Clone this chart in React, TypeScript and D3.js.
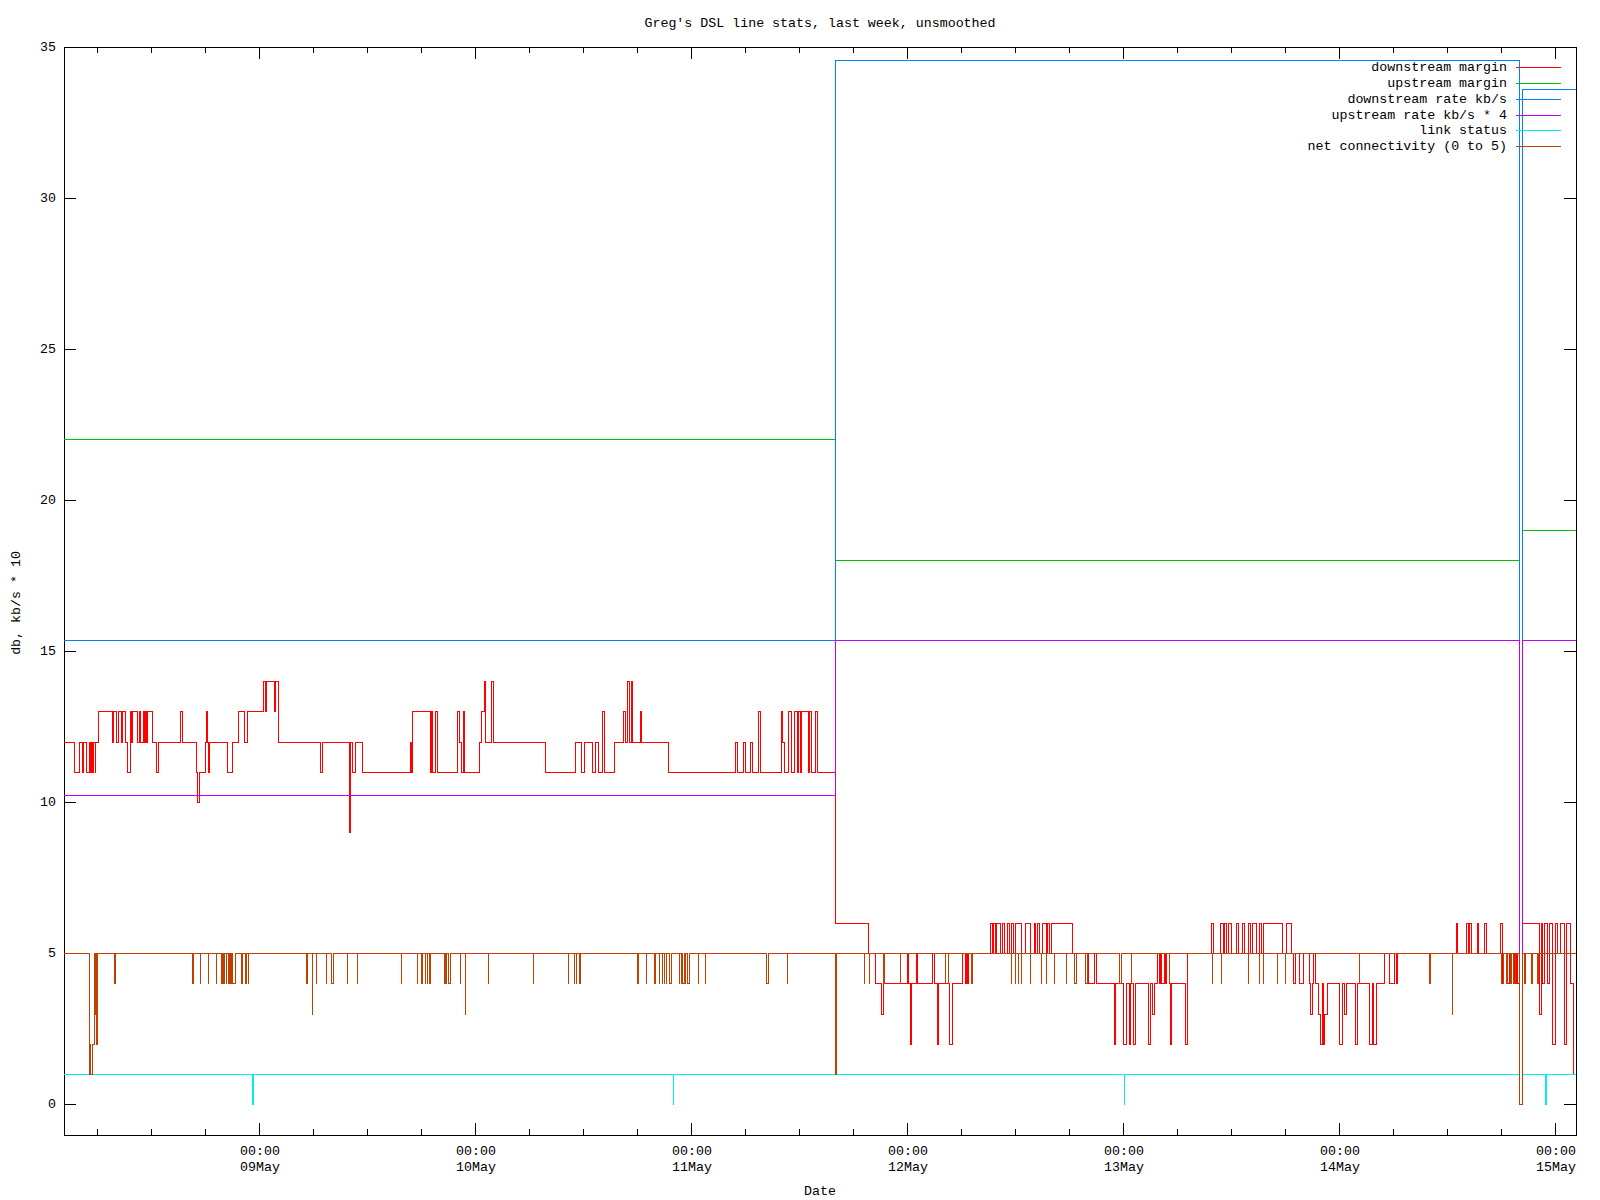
import * as d3 from "d3";

type Step = [number, number]; // [hours since 08 May 00:00, value]
type Dip = [number, number, number]; // [hours, value, number of 5-minute samples]

const TITLE = "Greg's DSL line stats, last week, unsmoothed";
const Y_LABEL = "db, kb/s * 10";
const X_LABEL = "Date";

const DAY0 = new Date(2008, 4, 8, 0, 0);
const HOURS_START = 2.23;
const HOURS_END = 170.23;
const SAMPLE_HOURS = 5 / 60;
const Y_TICKS = [0, 5, 10, 15, 20, 25, 30, 35];

// downstream margin, step changes
const downstreamMargin: Step[] = [
  [2.23, 12], [3.35, 11], [3.9, 12], [4.24, 11], [4.42, 12], [4.68, 11], [5.05, 12], [5.2, 11],
  [5.31, 12], [5.42, 11], [5.53, 12], [5.68, 11], [5.76, 12], [6.02, 13], [7.57, 12], [7.72, 13],
  [8.05, 12], [8.27, 13], [8.57, 12], [8.72, 13], [9.01, 12], [9.24, 11], [9.57, 13], [9.76, 12],
  [9.83, 13], [10.35, 12], [10.57, 13], [10.72, 12], [11.01, 13], [11.16, 12], [11.27, 13],
  [11.42, 12], [11.53, 13], [12.01, 12], [12.53, 11], [12.72, 12], [15.2, 13], [15.39, 12],
  [16.9, 11], [17.01, 10], [17.24, 11], [17.94, 12], [18.05, 13], [18.2, 12], [18.24, 11],
  [18.35, 12], [20.35, 11], [20.9, 12], [21.61, 13], [22.27, 12], [22.61, 13], [24.35, 14],
  [24.57, 13], [24.72, 14], [25.57, 13], [25.76, 14], [26.05, 12], [30.68, 11], [30.94, 12],
  [33.9, 9], [34.05, 12], [34.3, 11], [34.58, 12], [35.35, 11], [40.68, 12], [40.87, 11],
  [40.98, 13], [42.9, 11], [43.01, 13], [43.13, 11], [43.53, 13], [43.72, 11], [45.9, 13],
  [46.2, 12], [46.35, 11], [46.57, 13], [46.72, 11], [48.35, 12], [48.57, 13], [48.9, 14],
  [49.05, 12], [49.68, 14], [49.9, 12], [55.68, 11], [59.01, 12], [59.68, 11], [60.01, 12],
  [60.9, 11], [61.24, 12], [61.57, 11], [62.01, 13], [62.24, 11], [63.35, 12], [64.35, 13],
  [64.57, 12], [64.87, 14], [65.05, 12], [65.24, 14], [65.39, 12], [66.24, 13], [66.35, 12],
  [69.35, 11], [76.87, 12], [77.05, 11], [77.68, 12], [77.9, 11], [78.53, 12], [78.72, 11],
  [79.35, 13], [79.57, 11], [81.9, 13], [82.05, 12], [82.24, 11], [82.68, 13], [83.01, 11],
  [83.35, 13], [83.68, 11], [83.87, 13], [84.01, 11], [84.2, 13], [84.9, 11], [85.05, 13],
  [85.24, 11], [85.68, 13], [85.9, 11], [88.0, 6], [91.61, 5], [92.35, 4], [93.01, 3],
  [93.24, 4], [95.9, 5], [96.01, 4], [96.24, 2], [96.39, 4], [96.9, 5], [97.01, 4], [98.72, 5],
  [98.9, 4], [99.24, 2], [99.39, 4], [100.57, 2], [100.94, 4], [102.05, 5], [102.39, 4],
  [102.53, 5], [102.64, 4], [102.76, 5], [105.2, 6], [105.35, 5], [105.5, 6], [105.72, 5],
  [105.87, 6], [106.24, 5], [106.53, 6], [106.72, 5], [107.05, 6], [107.24, 5], [107.53, 6],
  [107.76, 5], [107.9, 6], [108.64, 5], [109.01, 6], [109.64, 5], [110.01, 6], [110.2, 5],
  [110.35, 6], [110.64, 5], [110.9, 6], [111.39, 5], [111.53, 6], [111.76, 5], [111.9, 6],
  [114.24, 5], [116.05, 4], [116.68, 5], [116.9, 4], [118.94, 2], [119.09, 4], [119.97, 2],
  [120.34, 4], [120.57, 2], [120.75, 4], [121.01, 2], [121.34, 4], [122.68, 2], [122.94, 4],
  [123.2, 3], [123.38, 4], [123.68, 5], [123.9, 4], [124.01, 5], [124.12, 4], [124.46, 5],
  [124.57, 4], [124.72, 5], [125.01, 4], [125.2, 2], [125.27, 4], [126.86, 2], [127.05, 5],
  [129.68, 6], [129.94, 5], [130.68, 6], [131.01, 5], [131.2, 6], [131.38, 5], [131.57, 6],
  [131.94, 5], [132.53, 6], [132.72, 5], [133.2, 6], [133.42, 5], [133.86, 6], [134.05, 5],
  [134.23, 6], [134.68, 5], [135.01, 6], [135.23, 5], [135.53, 6], [137.6, 5], [138.01, 6],
  [138.57, 5], [138.86, 4], [139.05, 5], [139.53, 4], [139.9, 5], [140.57, 4], [140.68, 3],
  [140.9, 4], [141.01, 5], [141.27, 4], [141.57, 3], [141.86, 2], [142.01, 4], [142.2, 2],
  [142.34, 3], [142.57, 4], [143.97, 2], [144.23, 4], [144.53, 3], [144.71, 4], [145.68, 2],
  [145.9, 4], [147.31, 2], [147.57, 4], [147.68, 2], [148.01, 4], [148.9, 5], [149.53, 4],
  [150.01, 5], [150.27, 4], [150.42, 5], [156.9, 6], [157.05, 5], [158.01, 6], [158.23, 5],
  [158.42, 6], [158.6, 5], [159.23, 6], [159.42, 5], [160.01, 6], [160.23, 5], [161.83, 6],
  [162.01, 4], [162.2, 5], [162.49, 4], [162.83, 5], [163.38, 4], [163.6, 5], [163.75, 4],
  [163.94, 0], [164.3, 6], [166.2, 3], [166.35, 6], [166.5, 4], [166.7, 6], [167.1, 4],
  [167.25, 6], [167.6, 2], [167.9, 6], [168.2, 5], [168.5, 6], [168.9, 2], [169.2, 6],
  [169.6, 4], [169.9, 1],
];

const upstreamMargin: Step[] = [[2.23, 22], [88.0, 18], [163.94, 0], [164.27, 19]];
const downstreamRate: Step[] = [[2.23, 15.36], [88.0, 34.56], [163.94, 0], [164.27, 33.6]];
const upstreamRate: Step[] = [[2.23, 10.24], [88.0, 15.36], [164.0, 0], [164.27, 15.36]];

const LINK_BASE = 1;
const linkDips: Dip[] = [[23.2, 0, 1], [69.92, 0, 1], [120.03, 0, 1], [163.94, 0, 4], [166.86, 0, 1]];

const NET_BASE = 5;
const netDips: Dip[] = [
  [5.02, 1, 1], [5.11, 2, 1], [5.2, 1, 3], [5.45, 2, 2], [5.65, 3, 1], [5.76, 3, 1], [5.88, 2, 1],
  [7.79, 4, 2], [16.46, 4, 2], [17.35, 4, 1], [18.24, 4, 1], [19.13, 4, 1], [19.68, 4, 2],
  [20.0, 4, 1], [20.24, 4, 1], [20.53, 4, 1], [20.76, 4, 1], [20.98, 4, 4], [22.0, 4, 1],
  [22.39, 4, 1], [22.68, 4, 1], [29.13, 4, 2], [29.79, 3, 1], [30.24, 4, 1], [31.35, 4, 1],
  [32.0, 4, 2], [33.68, 4, 1], [34.79, 4, 1], [39.68, 4, 1], [41.46, 4, 1], [41.9, 4, 2],
  [42.35, 4, 1], [42.57, 4, 1], [42.79, 4, 2], [44.46, 4, 2], [44.68, 4, 1], [44.9, 4, 3],
  [46.24, 4, 1], [46.79, 3, 1], [49.35, 4, 1], [54.35, 4, 1], [58.24, 4, 1], [58.9, 4, 1],
  [59.13, 4, 1], [59.46, 4, 2], [65.9, 4, 2], [66.9, 4, 1], [67.79, 4, 2], [68.35, 4, 1],
  [68.68, 4, 1], [68.9, 4, 1], [69.13, 4, 1], [69.46, 4, 3], [70.57, 4, 1], [70.79, 4, 1],
  [71.0, 4, 2], [71.24, 4, 1], [71.46, 4, 3], [72.68, 4, 1], [73.46, 4, 1], [80.31, 4, 2],
  [82.57, 4, 1], [88.0, 1, 1], [91.13, 4, 1], [91.68, 4, 1], [93.24, 4, 2], [95.13, 4, 1],
  [100.13, 4, 1], [100.46, 4, 1], [103.05, 4, 2], [107.46, 4, 1], [107.9, 4, 1], [108.24, 4, 1],
  [108.57, 4, 1], [109.57, 4, 1], [110.79, 4, 1], [111.35, 4, 1], [112.24, 4, 1], [113.57, 4, 1],
  [114.46, 4, 3], [115.72, 4, 3], [119.53, 4, 3], [120.79, 4, 1], [125.01, 4, 1], [129.79, 4, 1],
  [130.79, 4, 1], [133.79, 4, 1], [135.01, 4, 1], [135.46, 4, 1], [137.01, 4, 1], [137.9, 4, 1],
  [146.12, 4, 1], [153.98, 4, 1], [156.46, 3, 1], [162.0, 4, 2], [162.5, 4, 1], [162.95, 4, 1],
  [163.3, 4, 2], [163.94, 0, 4], [164.5, 4, 1], [165.25, 4, 2], [166.0, 4, 1],
];

const LEGEND = [
  "downstream margin",
  "upstream margin",
  "downstream rate kb/s",
  "upstream rate kb/s * 4",
  "link status",
  "net connectivity (0 to 5)",
];
const COLORS = ["#ff0000", "#00c000", "#0080ff", "#c000ff", "#00eeee", "#c04000"];

const FONT = "'Liberation Mono', 'DejaVu Sans Mono', monospace";
const FONT_SIZE = 13.3;

const toDate = (h: number) => new Date(DAY0.getTime() + h * 3600 * 1000);

function dipsToSteps(base: number, dips: Dip[]): Step[] {
  const out: Step[] = [[HOURS_START, base]];
  dips.forEach(([h, v, n], i) => {
    out.push([h, v]);
    const end = h + n * SAMPLE_HOURS;
    const next = dips[i + 1];
    // consecutive bad samples: no return to the base value in between
    if (!next || next[0] > end + 0.01) out.push([end, base]);
  });
  return out;
}

const withEnd = (s: Step[]): Step[] => [...s, [HOURS_END, s[s.length - 1][1]]];

export default function App() {
  const plot = { left: 64, right: 1576, top: 47, bottom: 1135 };

  const x = d3
    .scaleTime()
    .domain([toDate(HOURS_START), toDate(HOURS_END)])
    .range([plot.left, plot.right]);
  const y = d3.scaleLinear().domain([-1, 35]).range([plot.bottom, plot.top]);

  const line = d3
    .line<Step>()
    .x((d) => x(toDate(d[0])))
    .y((d) => y(d[1]))
    .curve(d3.curveStepAfter);

  const series = [
    downstreamMargin,
    upstreamMargin,
    downstreamRate,
    upstreamRate,
    dipsToSteps(LINK_BASE, linkDips),
    dipsToSteps(NET_BASE, netDips),
  ].map(withEnd);

  const [d0, d1] = x.domain();
  const majorTicks = d3.timeDay.range(d0, d1);
  const minorTicks = d3.timeHour
    .every(6)!
    .range(d0, d1)
    .filter((d) => d.getHours() !== 0);
  const fmtTime = d3.timeFormat("%H:%M");
  const fmtDay = d3.timeFormat("%d%b");

  const textProps = {
    fontFamily: FONT,
    fontSize: FONT_SIZE,
    fill: "#000",
  };
  const keyY = (i: number) => 67.7 + i * 15.8;

  return (
    <svg
      width={1600}
      height={1200}
      style={{ position: "absolute", left: 0, top: 0, background: "#fff" }}
      shapeRendering="crispEdges"
    >
      <rect width={1600} height={1200} fill="#fff" />

      {/* title */}
      <text {...textProps} x={(plot.left + plot.right) / 2} y={23} textAnchor="middle" dominantBaseline="central">
        {TITLE}
      </text>

      {/* y axis ticks and labels */}
      {Y_TICKS.map((v) => (
        <g key={v}>
          <line x1={plot.left} x2={plot.left + 12} y1={y(v)} y2={y(v)} stroke="#000" />
          <line x1={plot.right - 12} x2={plot.right} y1={y(v)} y2={y(v)} stroke="#000" />
          <text {...textProps} x={56} y={y(v)} textAnchor="end" dominantBaseline="central">
            {v}
          </text>
        </g>
      ))}

      {/* x axis ticks */}
      {minorTicks.map((d, i) => (
        <g key={"m" + i}>
          <line x1={x(d)} x2={x(d)} y1={plot.bottom} y2={plot.bottom - 6} stroke="#000" />
          <line x1={x(d)} x2={x(d)} y1={plot.top} y2={plot.top + 6} stroke="#000" />
        </g>
      ))}
      {majorTicks.map((d, i) => (
        <g key={"M" + i}>
          <line x1={x(d)} x2={x(d)} y1={plot.bottom} y2={plot.bottom - 12} stroke="#000" />
          <line x1={x(d)} x2={x(d)} y1={plot.top} y2={plot.top + 12} stroke="#000" />
          <text {...textProps} x={x(d)} y={1151} textAnchor="middle" dominantBaseline="central">
            {fmtTime(d)}
          </text>
          <text {...textProps} x={x(d)} y={1167} textAnchor="middle" dominantBaseline="central">
            {fmtDay(d)}
          </text>
        </g>
      ))}

      {/* axis titles */}
      <text {...textProps} x={(plot.left + plot.right) / 2} y={1191} textAnchor="middle" dominantBaseline="central">
        {X_LABEL}
      </text>
      <text
        {...textProps}
        transform={`translate(16, 603) rotate(-90)`}
        textAnchor="middle"
        dominantBaseline="central"
      >
        {Y_LABEL}
      </text>

      {/* frame */}
      <rect
        x={plot.left}
        y={plot.top}
        width={plot.right - plot.left}
        height={plot.bottom - plot.top}
        fill="none"
        stroke="#000"
      />

      {/* series with their key entries, in plotting order */}
      {series.map((s, i) => (
        <g key={i}>
          <text {...textProps} x={1507} y={keyY(i)} textAnchor="end" dominantBaseline="central">
            {LEGEND[i]}
          </text>
          <line x1={1516} x2={1561} y1={keyY(i)} y2={keyY(i)} stroke={COLORS[i]} />
          <path d={line(s) ?? ""} fill="none" stroke={COLORS[i]} strokeWidth={1} />
        </g>
      ))}
    </svg>
  );
}
